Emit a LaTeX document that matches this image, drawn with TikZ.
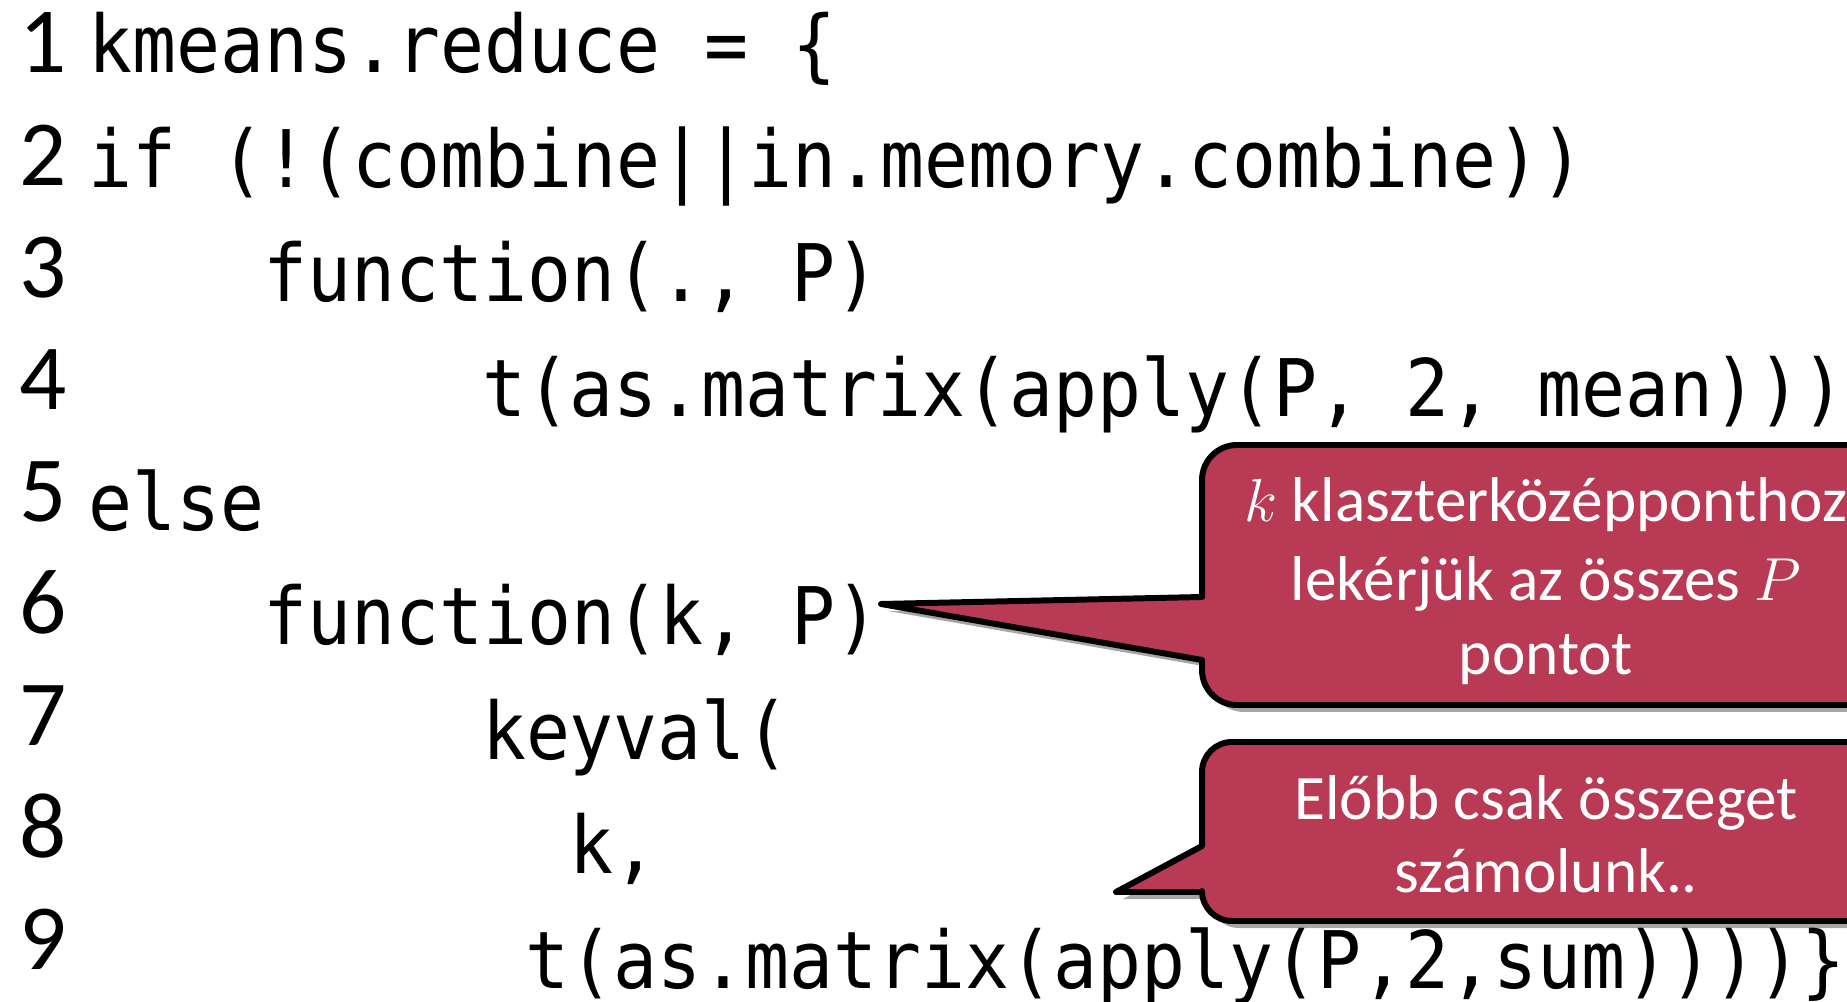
\documentclass[tikz,border=0pt]{standalone}
\usepackage{fontspec}
\setmainfont{Carlito}
\newfontfamily\codefont[FakeStretch=0.92]{DejaVu Sans Mono}
\usetikzlibrary{shadows}
\definecolor{bubblered}{RGB}{184,58,84}
\tikzset{
  codeline/.style={anchor=base west, inner sep=0pt, font=\codefont\fontsize{22.6}{26}\selectfont},
  lineno/.style={anchor=base, inner sep=0pt, font=\fontsize{26.5}{30}\selectfont},
  bubble/.style={fill=bubblered, draw=black, line width=1.7pt, line join=round,
    drop shadow={shadow xshift=0.7mm, shadow yshift=-0.7mm, opacity=0.35, fill=black}},
  bubbletext/.style={anchor=base, inner sep=0pt, text=white, font=\fontsize{18}{21.7}\selectfont}
}
\begin{document}
\begin{tikzpicture}[x=0.1mm, y=-0.1mm]
  \useasboundingbox (0,0) rectangle (1847,1002);
  \clip (0,0) rectangle (1847,1002);

  % line numbers
  \foreach \i in {1,...,9}
    \node[lineno] (n\i) at (43, {73+(\i-1)*112.1}) {\i};

  % code lines
  \node[codeline] (c1) at (88, 73) {kmeans.reduce = \{};
  \node[codeline] (c2) at (88, 187.4) {if (!(combine||in.memory.combine))};
  \node[codeline] (c3) at (262.8, 301.8) {function(., P)};
  \node[codeline] (c4) at (481.3, 416.2) {t(as.matrix(apply(P, 2, mean)))};
  \node[codeline] (c5) at (88, 530.6) {else};
  \node[codeline] (c6) at (262.8, 645) {function(k, P)};
  \node[codeline] (c7) at (481.3, 759.4) {keyval(};
  \node[codeline] (c8) at (568.7, 873.8) {k,};
  \node[codeline] (c9) at (525, 988.2) {t(as.matrix(apply(P,2,sum))))\}};

  % callouts
  \draw[bubble] (1202,597) -- (1202,480) arc[start angle=180, end angle=270, radius=35]
    -- (1900,445) -- (1900,705) -- (1237,705) arc[start angle=90, end angle=180, radius=35]
    -- (1202,660) -- (881,604) -- cycle;
  \node[bubbletext] (note1a) at (1546, 522) {$k$ klaszterközépponthoz};
  \node[bubbletext] (note1b) at (1546, 601) {lekérjük az összes $P$};
  \node[bubbletext] (note1c) at (1546, 675) {pontot};

  \draw[bubble] (1202,846) -- (1202,772) arc[start angle=180, end angle=270, radius=30]
    -- (1900,742) -- (1900,921) -- (1232,921) arc[start angle=90, end angle=180, radius=30]
    -- (1202,892) -- (1116,892) -- cycle;
  \node[bubbletext] (note2a) at (1546, 819) {Előbb csak összeget};
  \node[bubbletext] (note2b) at (1546, 892) {számolunk..};

\end{tikzpicture}
\end{document}
